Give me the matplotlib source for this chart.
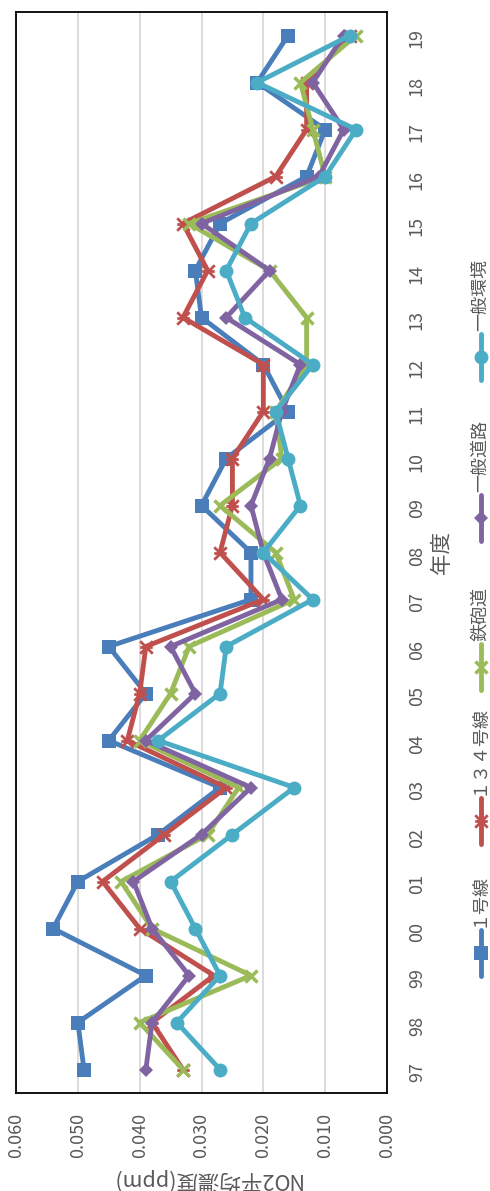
import matplotlib
matplotlib.use("Agg")
import matplotlib.pyplot as plt
from matplotlib.lines import Line2D
from matplotlib.path import Path

plt.rcParams["font.family"] = ["Noto Sans CJK JP", "DejaVu Sans"]

# 年度 (97 → 19)
years = ["97", "98", "99", "00", "01", "02", "03", "04", "05", "06", "07", "08",
         "09", "10", "11", "12", "13", "14", "15", "16", "17", "18", "19"]

route1 = [0.049, 0.050, 0.039, 0.054, 0.050, 0.037, 0.027, 0.045, 0.039, 0.045, 0.022, 0.022,
          0.030, 0.026, 0.016, 0.020, 0.030, 0.031, 0.027, 0.013, 0.010, 0.021, 0.016]
route134 = [0.033, 0.038, 0.028, 0.040, 0.046, 0.036, 0.026, 0.042, 0.040, 0.039, 0.020, 0.027,
            0.025, 0.025, 0.020, 0.020, 0.033, 0.029, 0.033, 0.018, 0.013, 0.013, 0.006]
teppoumichi = [0.033, 0.040, 0.022, 0.038, 0.043, 0.029, 0.024, 0.040, 0.035, 0.032, 0.015, 0.018,
               0.027, 0.017, 0.018, 0.013, 0.013, 0.019, 0.032, 0.010, 0.012, 0.014, 0.005]
general_road = [0.039, 0.038, 0.032, 0.038, 0.041, 0.030, 0.022, 0.039, 0.031, 0.035, 0.017, 0.020,
                0.022, 0.019, 0.017, 0.014, 0.026, 0.019, 0.030, 0.011, 0.007, 0.012, 0.007]
general_env = [0.027, 0.034, 0.027, 0.031, 0.035, 0.025, 0.015, 0.037, 0.027, 0.026, 0.012, 0.020,
               0.014, 0.016, 0.018, 0.012, 0.023, 0.026, 0.022, 0.010, 0.005, 0.021, 0.006]

labels = ["１号線", "１３４号線", "鉄砲道", "一般道路", "一般環境"]

# X + 横棒 (Excel の星形マーカーを 90° 回転したもの)
star = Path([(-1, -1), (1, 1), (-1, 1), (1, -1), (-1, 0), (1, 0)],
            [Path.MOVETO, Path.LINETO, Path.MOVETO, Path.LINETO, Path.MOVETO, Path.LINETO])

styles = [
    dict(color="#4A7EBB", marker="s", ms=9.5, mew=0),
    dict(color="#C0504D", marker=star, ms=9, mew=2),
    dict(color="#9BBB59", marker="x", ms=9, mew=2.5),
    dict(color="#8064A2", marker="D", ms=7, mew=0),
    dict(color="#4BACC6", marker="o", ms=10, mew=0),
]

W, H = 490, 1191
GRAY = "#595959"


def px(x, y):
    return x / W, 1 - y / H


fig = plt.figure(figsize=(W / 100, H / 100), dpi=100)
ax = fig.add_axes([16 / W, 1 - 1093 / H, (387 - 16) / W, (1093 - 12) / H])

pos = list(range(len(years)))
series = [route1, route134, teppoumichi, general_road, general_env]
for vals, st in zip(series, styles):
    ax.plot(vals, pos, lw=3.5, solid_joinstyle="round", solid_capstyle="round", zorder=3, **st)

ax.set_xlim(0.060, 0.0)
ax.set_ylim(-0.5, len(years) - 0.5)
ax.set_xticks([0.0, 0.01, 0.02, 0.03, 0.04, 0.05, 0.06])
ax.set_xticklabels([f"{v:.3f}" for v in ax.get_xticks()])
ax.set_yticks(pos)
ax.set_yticklabels(years)
ax.yaxis.tick_right()
ax.tick_params(axis="x", length=0, pad=14, labelrotation=90, labelsize=13, labelcolor=GRAY)
ax.tick_params(axis="y", length=0, pad=15, labelrotation=90, labelsize=13, labelcolor=GRAY)
ax.grid(True, axis="x", color="#D9D9D9", lw=1.3)
ax.set_axisbelow(True)
for sp in ax.spines.values():
    sp.set_color("black")
    sp.set_linewidth(1.3)

fig.text(*px(442, 552), "年度", rotation=90, ha="center", va="center", fontsize=15.5, color=GRAY)
fig.text(*px(206, 1180), "NO2平均濃度(ppm)", rotation=180, ha="center", va="center",
         fontsize=15.5, color=GRAY)

# 凡例 (回転しているので手で配置)
legend_y = [953, 821, 667, 518, 357]
for lab, st, yc in zip(labels, styles, legend_y):
    x0, y0 = px(481, yc + 23)
    _, y1 = px(481, yc - 23)
    fig.add_artist(Line2D([x0, x0], [y0, y1], color=st["color"], lw=3.5,
                          solid_capstyle="round", transform=fig.transFigure))
    fig.add_artist(Line2D([x0], [(y0 + y1) / 2], color=st["color"], marker=st["marker"],
                          ms=st["ms"], mew=st["mew"], transform=fig.transFigure))
    fig.text(x0 - 1 / W, y1 + 3 / H, lab, rotation=90, ha="center", va="bottom",
             fontsize=13, color=GRAY)

fig.savefig("out.png", dpi=100, facecolor="white")
